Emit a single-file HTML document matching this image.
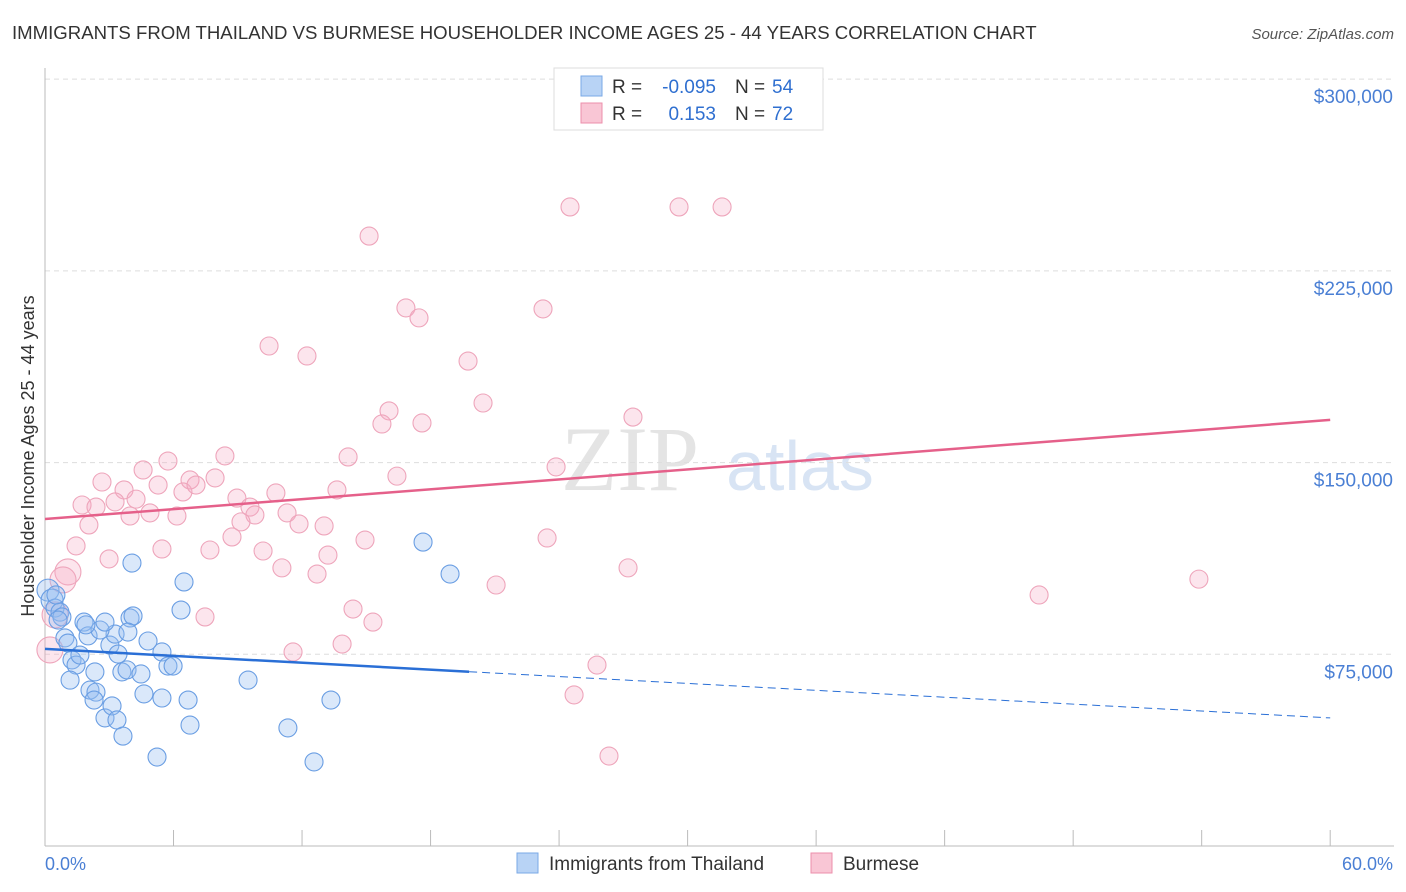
<!DOCTYPE html>
<html><head><meta charset="utf-8"><style>
body{margin:0;background:#fff;font-family:"Liberation Sans",sans-serif}
svg{display:block}
</style></head><body>
<svg id="chart" width="1406" height="892">
<text x="12" y="39" font-size="18.6" fill="#333">IMMIGRANTS FROM THAILAND VS BURMESE HOUSEHOLDER INCOME AGES 25 - 44 YEARS CORRELATION CHART</text>
<text x="1394" y="39" font-size="15" fill="#555" font-style="italic" text-anchor="end">Source: ZipAtlas.com</text>
<text x="630" y="490" font-size="92" fill="#e4e4e4" font-family="Liberation Serif,serif" text-anchor="middle">ZIP</text>
<text x="800" y="490" font-size="70" fill="#d8e4f4" text-anchor="middle">atlas</text>
<g id="grid"></g>
<g id="marks"></g>
<g id="lines"></g>
<text transform="translate(34,456) rotate(-90)" font-size="18" fill="#333" text-anchor="middle">Householder Income Ages 25 - 44 years</text>
<g>
<rect x="554" y="68" width="269" height="62" fill="#fff" stroke="#ddd"/>
<rect x="581" y="76" width="21" height="20" fill="#b8d3f5" stroke="#7aa8e6"/>
<rect x="581" y="103" width="21" height="20" fill="#f9c6d5" stroke="#ec8fab"/>
<text x="612" y="93" font-size="19" fill="#333">R =</text>
<text x="716" y="93" font-size="19" fill="#2f6fd0" text-anchor="end">-0.095</text>
<text x="735" y="93" font-size="19" fill="#333">N =</text>
<text x="772" y="93" font-size="19" fill="#2f6fd0">54</text>
<text x="612" y="120" font-size="19" fill="#333">R =</text>
<text x="716" y="120" font-size="19" fill="#2f6fd0" text-anchor="end">0.153</text>
<text x="735" y="120" font-size="19" fill="#333">N =</text>
<text x="772" y="120" font-size="19" fill="#2f6fd0">72</text>
</g>
<g>
<rect x="517" y="853" width="21" height="20" fill="#b8d3f5" stroke="#7aa8e6"/>
<text x="549" y="870" font-size="19" fill="#333">Immigrants from Thailand</text>
<rect x="811" y="853" width="21" height="20" fill="#f9c6d5" stroke="#ec8fab"/>
<text x="843" y="870" font-size="19" fill="#333">Burmese</text>
</g>
<text x="45" y="870" font-size="18" fill="#4a7fd4">0.0%</text>
<text x="1393" y="870" font-size="18" fill="#4a7fd4" text-anchor="end">60.0%</text>
</svg>
<script>
const yTicks=[75000,150000,225000,300000];
const yTickLabels=["$75,000","$150,000","$225,000","$300,000"];
const blueX=[0.14,0.33,0.47,0.70,0.79,0.61,0.93,1.07,1.26,1.45,1.63,1.82,2.01,2.10,2.33,2.38,2.29,2.80,3.13,3.36,3.64,3.03,3.27,3.41,3.59,3.83,3.97,4.11,4.06,4.81,4.48,4.62,5.46,5.23,5.74,5.98,5.46,6.68,6.77,6.49,6.35,9.48,11.34,12.56,13.35,17.65,18.91,2.57,2.80,3.87,1.17,0.51,1.91];
const blueY=[100.1,96.2,93.1,91.5,89.6,88.4,81.4,79.4,72.8,70.8,74.7,87.6,82.2,61.0,68.1,60.2,57.1,50.1,54.8,49.3,43.0,78.6,82.9,75.1,68.1,68.9,89.2,90.0,110.7,80.2,67.3,59.5,75.9,34.8,70.4,70.4,57.9,57.1,47.3,103.3,92.3,64.9,46.2,32.9,57.1,118.9,106.4,84.5,87.6,83.7,64.9,98.2,86.5];
const pinkX=[24.51,29.60,31.61,15.13,16.85,17.46,23.25,10.46,12.23,19.75,20.45,16.06,15.73,17.60,27.45,14.15,23.86,16.43,8.40,5.74,4.58,2.66,6.77,7.94,5.28,3.69,6.44,7.05,8.96,10.78,13.63,1.73,2.38,3.27,4.25,3.97,4.90,6.16,9.57,9.80,9.15,11.30,11.86,13.03,2.05,8.73,10.18,13.21,14.94,23.44,1.45,2.99,5.46,7.70,11.06,12.70,21.06,27.22,46.41,53.87,14.38,15.31,7.47,13.87,11.58,25.77,24.70,26.33,1.07,0.84,0.23,0.47];
const pinkY=[250.0,250.0,250.0,238.6,210.5,206.6,210.1,195.6,191.7,189.7,173.3,170.2,165.1,165.5,167.8,152.2,148.3,144.7,152.6,150.6,147.1,142.4,143.2,144.0,141.2,139.3,138.5,141.2,136.1,138.1,139.3,133.4,132.6,134.6,135.7,129.1,130.3,129.1,132.6,129.5,126.8,130.3,126.0,125.2,125.6,120.9,115.4,113.8,119.7,120.5,117.4,112.3,116.2,115.8,108.8,106.4,102.1,108.8,98.2,104.4,92.7,87.6,89.6,79.0,75.9,70.8,59.1,35.2,107.2,104.1,76.7,90.4];
const pinkTrend=[127.9,166.7];
const blueTrend=[77.1,50.1];
const blueSolidEnd=19.8;
const NS="http://www.w3.org/2000/svg";
const xs=p=>45+p*21.42;
const ys=k=>846-k/0.3912;
function mk(t,a,parent){const e=document.createElementNS(NS,t);for(const k in a)e.setAttribute(k,a[k]);document.getElementById(parent).appendChild(e);return e;}
yTicks.forEach((v,i)=>{
  const y=ys(v/1000);
  const g=mk('line',{x1:45,x2:1394,y1:y,y2:y,stroke:'#ddd','stroke-dasharray':'5,4'},'grid');
  
  
  const t=mk('text',{x:1393,y:y+24,'font-size':19,fill:'#4a7fd4','text-anchor':'end'},'grid');
  t.textContent=yTickLabels[i];
  
  
});
const ax=mk('line',{x1:45,x2:1394,y1:846,y2:846,stroke:'#bbb'},'grid');


const ay=mk('line',{x1:45,x2:45,y1:68,y2:846,stroke:'#bbb'},'grid');


for(let i=0;i<=10;i++){const x=xs(i*6);const tk=mk('line',{x1:x,x2:x,y1:830,y2:846,stroke:'#bbb'},'grid');

}
pinkX.forEach((x,i)=>{const big=x<1.2;
  const c=mk('circle',{cx:xs(x),cy:ys(pinkY[i]),r:big?13:9,fill:'rgba(246,170,195,0.3)',stroke:'#eea5bb','stroke-width':1.1},'marks');
  
  });
blueX.forEach((x,i)=>{
  const c=mk('circle',{cx:xs(x),cy:ys(blueY[i]),r:x<0.4?11:9,fill:'rgba(150,190,240,0.35)',stroke:'#6a9ee3','stroke-width':1.1},'marks');
  
  });
const pl=mk('line',{x1:xs(0),y1:ys(pinkTrend[0]),x2:xs(60),y2:ys(pinkTrend[1]),stroke:'#e5608a','stroke-width':2.5},'lines');


const bAt=p=>blueTrend[0]+(blueTrend[1]-blueTrend[0])*p/60;
const bl=mk('line',{x1:xs(0),y1:ys(blueTrend[0]),x2:xs(blueSolidEnd),y2:ys(bAt(blueSolidEnd)),stroke:'#2a6fd6','stroke-width':2.5},'lines');


const bd=mk('line',{x1:xs(blueSolidEnd),y1:ys(bAt(blueSolidEnd)),x2:xs(60),y2:ys(blueTrend[1]),stroke:'#2a6fd6','stroke-width':1,'stroke-dasharray':'8,5'},'lines');


</script>
</body></html>
